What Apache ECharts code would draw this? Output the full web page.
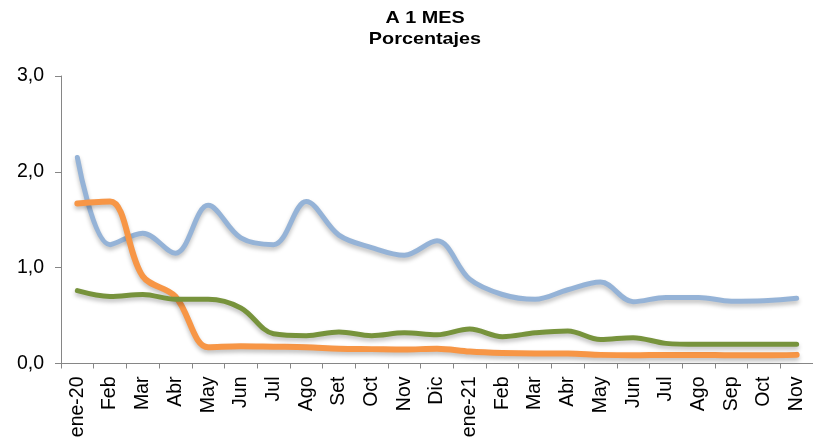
<!DOCTYPE html>
<html>
<head>
<meta charset="utf-8">
<script src="https://cdn.jsdelivr.net/npm/echarts@6/dist/echarts.min.js"></script>
<style>
  html, body { margin: 0; padding: 0; background: #fff; }
  #chart { width: 813px; height: 442px; }
</style>
</head>
<body>
<div id="chart"></div>
<script>
// Monthly categories, Jan 2020 – Nov 2021
var months = ['ene-20', 'Feb', 'Mar', 'Abr', 'May', 'Jun', 'Jul', 'Ago', 'Set', 'Oct', 'Nov', 'Dic',
              'ene-21', 'Feb', 'Mar', 'Abr', 'May', 'Jun', 'Jul', 'Ago', 'Sep', 'Oct', 'Nov'];

// One-month rates, in percent
var blueSeries = [2.15, 1.24, 1.36, 1.15, 1.65, 1.31, 1.24, 1.69, 1.34, 1.21, 1.13, 1.28,
                  0.88, 0.72, 0.67, 0.77, 0.85, 0.645, 0.69, 0.69, 0.65, 0.655, 0.68];
var orangeSeries = [1.67, 1.69, 0.91, 0.70, 0.17, 0.18, 0.175, 0.17, 0.155, 0.15, 0.145, 0.155,
                    0.125, 0.11, 0.105, 0.105, 0.09, 0.085, 0.09, 0.09, 0.085, 0.085, 0.09];
var greenSeries = [0.76, 0.70, 0.72, 0.67, 0.67, 0.58, 0.31, 0.29, 0.33, 0.29, 0.32, 0.30,
                   0.36, 0.28, 0.32, 0.34, 0.25, 0.27, 0.21, 0.20, 0.20, 0.20, 0.20];

// Title lines
var titleLines = ['A 1 MES', 'Porcentajes'];

// Y axis ticks
var yTicks = { min: 0, max: 3, interval: 1 };

var FONT = 'Liberation Sans, Arial, sans-serif';

var chart = echarts.init(document.getElementById('chart'));

function lineSeries(data, color, width) {
  return {
    type: 'line',
    data: data,
    smooth: 0.35,
    symbol: 'none',
    lineStyle: {
      color: color,
      width: width,
      cap: 'round',
      join: 'round',
      shadowColor: 'rgba(0,0,0,0.25)',
      shadowBlur: 4,
      shadowOffsetY: 3
    },
    z: 2
  };
}

// Title drawn as two bold text lines, slightly widened
var titleGraphics = titleLines.map(function (line, i) {
  return {
    type: 'text',
    x: 425,
    y: 18.3 + i * 21.5,
    scaleX: 1.2,
    style: {
      text: line,
      x: 0,
      y: 0,
      textAlign: 'center',
      textVerticalAlign: 'middle',
      font: 'bold 16.5px ' + FONT,
      fill: '#000'
    }
  };
});

chart.setOption({
  animation: false,
  backgroundColor: '#ffffff',
  graphic: titleGraphics,
  grid: { left: 61, top: 76, width: 759, height: 287.5, containLabel: false },
  xAxis: {
    type: 'category',
    data: months,
    boundaryGap: true,
    axisLine: { lineStyle: { color: '#868686', width: 1 } },
    axisTick: { show: true, length: 5, inside: false, lineStyle: { color: '#868686' } },
    axisLabel: {
      rotate: 90,
      margin: 13,
      interval: 0,
      fontFamily: FONT,
      fontSize: 19.5,
      color: '#000'
    },
    splitLine: { show: false }
  },
  yAxis: {
    type: 'value',
    min: yTicks.min,
    max: yTicks.max,
    interval: yTicks.interval,
    axisLine: { show: true, lineStyle: { color: '#868686', width: 1 } },
    axisTick: { show: true, length: 6, lineStyle: { color: '#868686' } },
    axisLabel: {
      margin: 17,
      fontFamily: FONT,
      fontSize: 19.5,
      color: '#000',
      formatter: function (v) { return v.toFixed(1).replace('.', ','); }
    },
    splitLine: { show: false }
  },
  series: [
    lineSeries(blueSeries, '#95B3D7', 5),
    lineSeries(orangeSeries, '#F79646', 6),
    lineSeries(greenSeries, '#77933C', 5)
  ]
});
</script>
</body>
</html>
